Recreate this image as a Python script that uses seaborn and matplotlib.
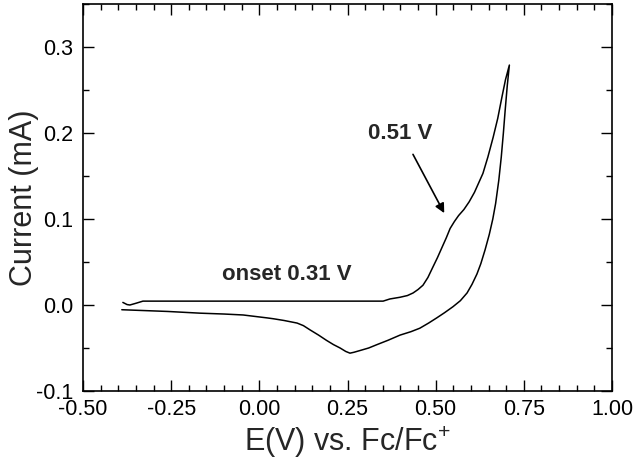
import matplotlib
matplotlib.use('Agg')
import matplotlib.pyplot as plt
import seaborn as sns
import pandas as pd
from matplotlib.ticker import MultipleLocator, FormatStrFormatter

# forward scan (anodic)
e_fwd = [-0.387, -0.375, -0.367, -0.35, -0.33, -0.2, 0.0, 0.2, 0.351, 0.37, 0.399, 0.42,
         0.436, 0.45, 0.464, 0.478, 0.492, 0.505, 0.518, 0.53, 0.541, 0.553, 0.565, 0.58,
         0.595, 0.61, 0.622, 0.634, 0.648, 0.663, 0.676, 0.688, 0.698, 0.709]
i_fwd = [0.003, 0.0005, 0.0, 0.002, 0.0045, 0.0045, 0.0045, 0.0045, 0.0045, 0.007, 0.009, 0.011,
         0.014, 0.018, 0.023, 0.032, 0.044, 0.055, 0.067, 0.078, 0.089, 0.097, 0.104, 0.111,
         0.12, 0.131, 0.142, 0.153, 0.172, 0.195, 0.217, 0.242, 0.262, 0.279]

# reverse scan
e_rev = [0.709, 0.703, 0.697, 0.692, 0.686, 0.679, 0.67, 0.662, 0.652, 0.64, 0.628, 0.617,
         0.603, 0.589, 0.57, 0.549, 0.525, 0.503, 0.48, 0.455, 0.43, 0.399, 0.365, 0.334,
         0.31, 0.285, 0.268, 0.257, 0.245, 0.229, 0.21, 0.19, 0.168, 0.144, 0.125, 0.107,
         0.07, 0.04, 0.022, -0.046, -0.1, -0.168, -0.26, -0.39]
i_rev = [0.279, 0.255, 0.226, 0.2, 0.172, 0.145, 0.118, 0.1, 0.082, 0.064, 0.048, 0.036,
         0.024, 0.014, 0.005, -0.002, -0.009, -0.015, -0.021, -0.027, -0.031, -0.035, -0.041, -0.046,
         -0.05, -0.053, -0.055, -0.056, -0.054, -0.05, -0.046, -0.041, -0.035, -0.029, -0.024, -0.021,
         -0.018, -0.016, -0.015, -0.0116, -0.0105, -0.0095, -0.0075, -0.0055]

df = pd.DataFrame({'E': e_fwd + e_rev, 'I': i_fwd + i_rev})

sns.set_style('ticks')
plt.rcParams['font.family'] = ['Liberation Sans', 'DejaVu Sans']
plt.rcParams['mathtext.fontset'] = 'custom'
plt.rcParams['mathtext.rm'] = 'Liberation Sans'

fig = plt.figure(figsize=(6.34, 4.69), dpi=100)
ax = fig.add_axes([83 / 634, 1 - 391 / 469, 529 / 634, 387 / 469])

sns.lineplot(data=df, x='E', y='I', sort=False, estimator=None, color='black', lw=1.1, ax=ax)

ax.set_xlim(-0.5, 1.0)
ax.set_ylim(-0.1, 0.35)
ax.xaxis.set_major_locator(MultipleLocator(0.25))
ax.xaxis.set_minor_locator(MultipleLocator(0.05))
ax.yaxis.set_major_locator(MultipleLocator(0.1))
ax.yaxis.set_minor_locator(MultipleLocator(0.05))
ax.xaxis.set_major_formatter(FormatStrFormatter('%.2f'))
ax.yaxis.set_major_formatter(FormatStrFormatter('%.1f'))

ax.tick_params(which='both', direction='in', top=True, right=True, width=1, colors='black')
ax.tick_params(which='major', length=8, labelsize=15.5)
ax.tick_params(axis='y', which='major', pad=7)
ax.tick_params(axis='x', which='major', pad=6)
ax.tick_params(which='minor', length=4)
for s in ax.spines.values():
    s.set_linewidth(1.2)
    s.set_color('black')

ax.set_xlabel(r'E(V) vs. Fc/Fc$^{+}$', fontsize=22, labelpad=3)
ax.set_ylabel('Current (mA)', fontsize=22, labelpad=-2)

ax.text(0.40, 0.199, '0.51 V', fontsize=16, fontweight='bold', ha='center', va='center')
ax.text(0.077, 0.035, 'onset 0.31 V', fontsize=16, fontweight='bold', ha='center', va='center')
ax.annotate('', xy=(0.528, 0.104), xytext=(0.432, 0.178),
            arrowprops=dict(arrowstyle='-|>', color='black', lw=1.2, mutation_scale=14))

fig.savefig('out.png', dpi=100)
